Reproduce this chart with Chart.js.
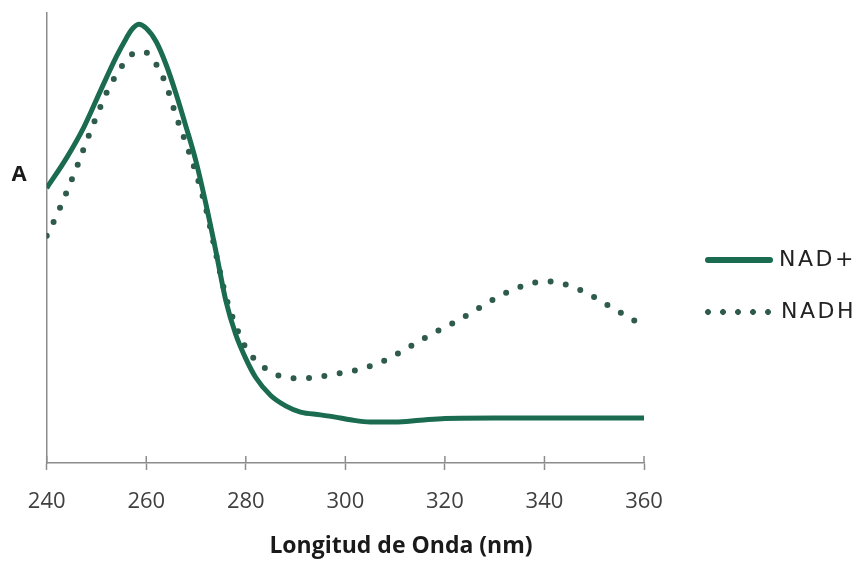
<!DOCTYPE html>
<html>
<head>
<meta charset="utf-8">
<script src="https://cdn.jsdelivr.net/npm/chart.js@4.4.0/dist/chart.umd.min.js"></script>
<style>
  html, body { margin: 0; padding: 0; background: #fff; }
  #wrap { position: relative; width: 859px; height: 563px; }
  #chart { position: absolute; left: 0; top: 0; }
  .row { position: absolute; left: 705px; height: 30px; line-height: 30px; white-space: nowrap;
         font: 22px "DejaVu Sans"; letter-spacing: 2.5px; color: #222; }
  .sw { display: inline-block; width: 68px; height: 6px; vertical-align: middle; margin-right: 6px; }
  .solid { background: #1a6b50; border-radius: 3px; }
  .dots { background: radial-gradient(circle at 3px 3px, #2f5b4e 2.6px, transparent 3.2px) 0 0 / 15px 6px repeat-x; width: 74px; margin-right: 2px; }
  .xtitle { position: absolute; left: 0; top: 528px; width: 802px; text-align: center; line-height: 30px;
            font: bold 23px "Open Sans"; color: #1a1a1a; }
</style>
</head>
<body>
<div id="wrap">
  <canvas id="chart" width="802" height="563"></canvas>
  <div class="row" style="top:246px"><span class="sw solid"></span>NAD+</div>
  <div class="row" style="top:298px"><span class="sw dots"></span>NADH</div>
  <div class="xtitle">Longitud de Onda (nm)</div>
</div>
<script>
// longitud de onda (nm) y absorbancia relativa
const nadWave = [240, 244, 247.5, 251, 254, 256, 257, 258.5, 260, 262, 264, 266, 268, 270, 272, 274, 276, 278, 280,
  282, 285, 288, 291, 295, 298, 301, 305, 310, 315, 320, 330, 340, 350, 360];
const nadAbs = [0.611, 0.678, 0.747, 0.832, 0.903, 0.944, 0.962, 0.975, 0.966, 0.936, 0.885, 0.820, 0.747, 0.670,
  0.575, 0.470, 0.360, 0.285, 0.232, 0.190, 0.150, 0.127, 0.113, 0.107, 0.102, 0.096, 0.091, 0.091, 0.095,
  0.099, 0.100, 0.100, 0.100, 0.100];

const nadhWave = [240, 242, 244, 246, 248, 250, 252, 254, 256, 258, 260, 262, 264, 266, 268, 270, 272, 274,
  276, 278, 280, 282, 285, 288, 291, 295, 298, 301, 304, 307, 310, 313, 316, 319, 322, 325, 328, 331, 334,
  337, 340, 343, 346, 349, 352, 355, 358.6];
const nadhAbs = [0.505, 0.550, 0.602, 0.656, 0.715, 0.770, 0.822, 0.863, 0.895, 0.913, 0.912, 0.886, 0.840,
  0.771, 0.710, 0.644, 0.565, 0.465, 0.370, 0.305, 0.256, 0.228, 0.203, 0.190, 0.188, 0.192, 0.198, 0.203,
  0.212, 0.223, 0.240, 0.259, 0.278, 0.296, 0.313, 0.332, 0.352, 0.371, 0.387, 0.398, 0.404, 0.400, 0.390,
  0.375, 0.355, 0.336, 0.313];

const xTicks = [240, 260, 280, 300, 320, 340, 360];
const yLabel = 'A';
const yLabelAt = 0.64;

const axisColor = '#8c8c8c';
const toPoints = (xs, ys) => xs.map((x, i) => ({ x, y: ys[i] }));
const noPad = s => { s.paddingTop = 0; s.paddingBottom = 0; s.paddingLeft = 0; s.paddingRight = 0; };

// marcas del eje x que cruzan la linea (parte superior)
const tickUp = {
  id: 'tickUp',
  afterDraw(chart) {
    const { ctx, chartArea, scales } = chart;
    ctx.save();
    ctx.strokeStyle = axisColor;
    ctx.lineWidth = 1.5;
    scales.x.ticks.forEach(t => {
      const px = scales.x.getPixelForValue(t.value);
      ctx.beginPath();
      ctx.moveTo(px, chartArea.bottom - 7);
      ctx.lineTo(px, chartArea.bottom);
      ctx.stroke();
    });
    ctx.restore();
  }
};

new Chart(document.getElementById('chart'), {
  type: 'line',
  data: {
    datasets: [
      {
        label: 'NAD+',
        data: toPoints(nadWave, nadAbs),
        borderColor: '#1a6b50',
        borderWidth: 5,
        pointRadius: 0,
        cubicInterpolationMode: 'monotone'
      },
      {
        label: 'NADH',
        data: toPoints(nadhWave, nadhAbs),
        borderColor: '#2f5b4e',
        borderWidth: 6,
        borderDash: [0, 15.5],
        borderCapStyle: 'round',
        pointRadius: 0,
        cubicInterpolationMode: 'monotone'
      }
    ]
  },
  options: {
    responsive: false,
    animation: false,
    layout: { padding: { left: 11.7, top: 13, right: 158, bottom: 36 } },
    plugins: {
      legend: { display: false },
      tooltip: { enabled: false }
    },
    scales: {
      x: {
        type: 'linear',
        min: 240,
        max: 360,
        afterBuildTicks: s => { s.ticks = xTicks.map(v => ({ value: v })); },
        afterFit: s => { s.height = 64; noPad(s); },
        ticks: { color: '#404040', font: { family: 'Open Sans', size: 22 }, padding: 19, maxRotation: 0 },
        grid: { drawOnChartArea: false, tickLength: 7, tickColor: axisColor, tickWidth: 1.5 },
        border: { color: axisColor, width: 1.5 }
      },
      y: {
        min: 0,
        max: 1,
        afterBuildTicks: s => { s.ticks = [{ value: yLabelAt }]; },
        afterFit: s => { s.width = 35; noPad(s); },
        ticks: { callback: () => yLabel, color: '#1a1a1a', font: { family: 'Open Sans', size: 22, weight: 'bold' }, padding: 20 },
        grid: { drawOnChartArea: false, drawTicks: false },
        border: { color: axisColor, width: 1.5 }
      }
    }
  },
  plugins: [tickUp]
});
</script>
</body>
</html>
